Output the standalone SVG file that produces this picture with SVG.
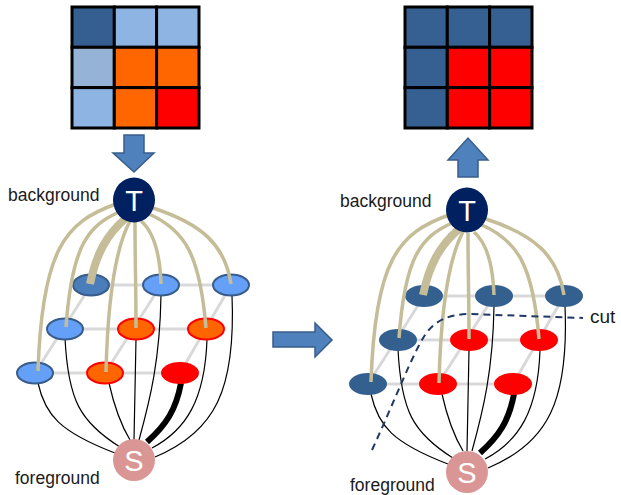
<svg xmlns="http://www.w3.org/2000/svg" width="621" height="495" viewBox="0 0 621 495">
<style>
.lbl{font-family:"Liberation Sans",Arial,sans-serif;font-size:17.5px;fill:#1a1a1a}
.big{font-family:"Liberation Sans",Arial,sans-serif;font-size:29px;fill:#ffffff;text-anchor:middle}
.grid{stroke:#d9d9d9;stroke-width:3;fill:none}
.fg{stroke:#000;stroke-width:1.2;fill:none}
.fgb{stroke:#000;stroke-width:6;fill:none}
.bg{stroke:#c4bd97;stroke-width:3.5;fill:none}
.bgb{stroke:#c4bd97;stroke-width:8;fill:none}
.cell{stroke:#000;stroke-width:3}
.arr{fill:#4f81bd;stroke:#385d8a;stroke-width:1.5}
.lb{fill:#65a0f8;stroke:#385d8a;stroke-width:2}
.db{fill:#4a7dba;stroke:#385d8a;stroke-width:2}
.or{fill:#ff6600;stroke:#ff0000;stroke-width:2}
.rd{fill:#ff0000}
.nb{fill:#33608f}
</style>
<defs>
<g id="gridlines">
<path class="grid" d="M91,285 H231 M65,329 H206 M35,373 H180 M91,285 L35,373 M161,285 L105,373 M231,285 L180,373"/>
</g>
<g id="fgedges">
<path class="fg" d="M38,383 C45,415 60,432 115,453"/>
<path class="fg" d="M65,338 C68,400 80,422 120,447"/>
<path class="fg" d="M109,383 C115,410 121,425 130,440"/>
<path class="fg" d="M136,339 L134,440"/>
<path class="fg" d="M161,295 C160,360 150,400 139,440"/>
<path class="fgb" d="M181,383 C176,410 166,425 147,442"/>
<path class="fg" d="M207,339 C205,400 186,430 152,448"/>
<path class="fg" d="M232,295 C236,390 215,432 155,457"/>
</g>
<g id="bgedges">
<path class="bg" d="M116,204 C65,222 42,250 38,371"/>
<path class="bg" d="M119,212 C88,226 72,245 66,327"/>
<path class="bgb" d="M126,218 C106,235 96,255 90,284"/>
<path class="bg" d="M130,221 C117,245 108,290 106,372"/>
<path class="bg" d="M135,222 C135,260 136,290 136,328"/>
<path class="bg" d="M141,221 C155,233 160,255 161,284"/>
<path class="bg" d="M149,214 C185,230 200,255 206,328"/>
<path class="bg" d="M153,208 C202,224 225,245 231,284"/>
</g>
</defs>

<!-- left matrix -->
<g id="matrix-left">
<rect class="cell" x="72" y="7" width="42.3" height="40.3" fill="#355f91"/>
<rect class="cell" x="114.3" y="7" width="42.3" height="40.3" fill="#8db4e2"/>
<rect class="cell" x="156.6" y="7" width="42.4" height="40.3" fill="#8db4e2"/>
<rect class="cell" x="72" y="47.3" width="42.3" height="40.3" fill="#95b3d7"/>
<rect class="cell" x="114.3" y="47.3" width="42.3" height="40.3" fill="#ff6600"/>
<rect class="cell" x="156.6" y="47.3" width="42.4" height="40.3" fill="#ff6600"/>
<rect class="cell" x="72" y="87.6" width="42.3" height="40.4" fill="#8db4e2"/>
<rect class="cell" x="114.3" y="87.6" width="42.3" height="40.4" fill="#ff6600"/>
<rect class="cell" x="156.6" y="87.6" width="42.4" height="40.4" fill="#ff0000"/>
</g>
<!-- right matrix -->
<g id="matrix-right">
<rect class="cell" x="405" y="7" width="42.3" height="40.3" fill="#366092"/>
<rect class="cell" x="447.3" y="7" width="42.3" height="40.3" fill="#366092"/>
<rect class="cell" x="489.6" y="7" width="42.4" height="40.3" fill="#366092"/>
<rect class="cell" x="405" y="47.3" width="42.3" height="40.3" fill="#366092"/>
<rect class="cell" x="447.3" y="47.3" width="42.3" height="40.3" fill="#ff0000"/>
<rect class="cell" x="489.6" y="47.3" width="42.4" height="40.3" fill="#ff0000"/>
<rect class="cell" x="405" y="87.6" width="42.3" height="40.4" fill="#366092"/>
<rect class="cell" x="447.3" y="87.6" width="42.3" height="40.4" fill="#ff0000"/>
<rect class="cell" x="489.6" y="87.6" width="42.4" height="40.4" fill="#ff0000"/>
</g>

<!-- block arrows -->
<g id="arrow-down">
<path class="arr" d="M124,135 H144 V153 H154 L134,172 L113,153 H124 Z"/>
</g>
<g id="arrow-up">
<path class="arr" d="M458,177 V160 H448 L468,138 L488,160 H478 V177 Z"/>
</g>
<g id="arrow-right">
<path class="arr" d="M273,332 H315 V323 L332,340 L315,357 V347 H273 Z"/>
</g>

<!-- left panel connectors (under nodes) -->
<g id="connectors-left">
<use href="#gridlines"/>
<use href="#fgedges"/>
</g>
<g id="connectors-right" transform="translate(333,11)">
<use href="#gridlines"/>
<use href="#fgedges"/>
</g>

<!-- left nodes -->
<g id="L-n11"><ellipse class="db" cx="91" cy="285" rx="18" ry="10.5"/></g>
<g id="L-n12"><ellipse class="lb" cx="161" cy="285" rx="18" ry="10.5"/></g>
<g id="L-n13"><ellipse class="lb" cx="231" cy="285" rx="18" ry="10.5"/></g>
<g id="L-n21"><ellipse class="lb" cx="65" cy="329" rx="18" ry="10.5"/></g>
<g id="L-n22"><ellipse class="or" cx="136" cy="329" rx="18" ry="10.5"/></g>
<g id="L-n23"><ellipse class="or" cx="206" cy="329" rx="18" ry="10.5"/></g>
<g id="L-n31"><ellipse class="lb" cx="35" cy="373" rx="18" ry="10.5"/></g>
<g id="L-n32"><ellipse class="or" cx="105" cy="373" rx="18" ry="10.5"/></g>
<g id="L-n33"><ellipse class="rd" cx="180" cy="373" rx="19" ry="11"/></g>

<!-- right nodes -->
<g transform="translate(333,11)">
<g id="R-n11"><ellipse class="nb" cx="91" cy="285" rx="19" ry="11"/></g>
<g id="R-n12"><ellipse class="nb" cx="161" cy="285" rx="19" ry="11"/></g>
<g id="R-n13"><ellipse class="nb" cx="231" cy="285" rx="19" ry="11"/></g>
<g id="R-n21"><ellipse class="nb" cx="65" cy="329" rx="19" ry="11"/></g>
<g id="R-n22"><ellipse class="rd" cx="136" cy="329" rx="19" ry="11"/></g>
<g id="R-n23"><ellipse class="rd" cx="206" cy="329" rx="19" ry="11"/></g>
<g id="R-n31"><ellipse class="nb" cx="35" cy="373" rx="19" ry="11"/></g>
<g id="R-n32"><ellipse class="rd" cx="105" cy="373" rx="19" ry="11"/></g>
<g id="R-n33"><ellipse class="rd" cx="180" cy="373" rx="19" ry="11"/></g>
</g>

<!-- background (T) connectors over nodes -->
<g id="connectors-T-left"><use href="#bgedges"/></g>
<g id="connectors-T-right" transform="translate(333,11)"><use href="#bgedges"/></g>

<!-- cut -->
<g id="cut">
<path d="M372,450 C395,400 412,355 425,335 C435,320 450,314 470,314 L583,318" fill="none" stroke="#1f3864" stroke-width="2" stroke-dasharray="7,5"/>
<text class="lbl" x="590" y="323" style="font-size:19px">cut</text>
</g>

<!-- terminals -->
<g id="L-T"><ellipse cx="134" cy="200" rx="21" ry="22.5" fill="#002060"/><text class="big" x="134" y="211">T</text></g>
<g id="L-S"><circle cx="134" cy="460" r="21" fill="#d99694"/><text class="big" x="134" y="471">S</text></g>
<g id="R-T"><ellipse cx="467" cy="210" rx="21" ry="22.5" fill="#002060"/><text class="big" x="467" y="221">T</text></g>
<g id="R-S"><circle cx="467" cy="472" r="21" fill="#d99694"/><text class="big" x="467" y="483">S</text></g>

<g id="labels">
<text class="lbl" x="8" y="201">background</text>
<text class="lbl" x="15" y="484">foreground</text>
<text class="lbl" x="340" y="207">background</text>
<text class="lbl" x="350" y="491">foreground</text>
</g>
</svg>
